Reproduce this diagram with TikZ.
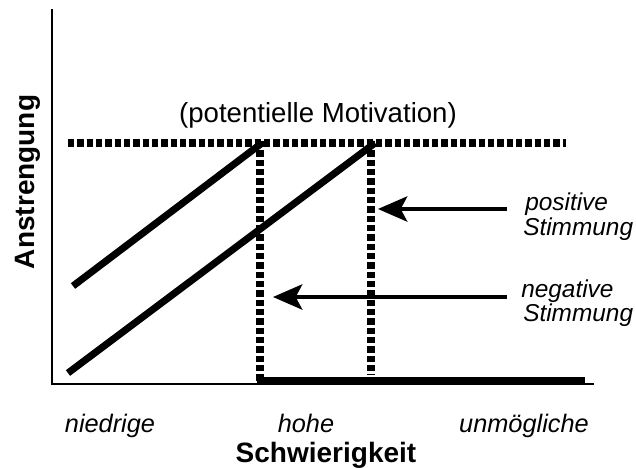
\documentclass[tikz,border=0pt]{standalone}
\usepackage{fontspec}
\setmainfont{Liberation Sans}
\usetikzlibrary{arrows.meta}
\begin{document}
\begin{tikzpicture}[x=0.75pt,y=-0.75pt,
  axis/.style={line width=2.2pt},
  slope/.style={line width=5.3pt},
  dotline/.style={line width=5.3pt,dash pattern=on 4.8pt off 2.2pt},
  floor/.style={line width=4.6pt},
  pointer/.style={line width=2.5pt,-{Stealth[length=22pt,width=19pt,inset=5pt]}},
  lab/.style={font=\fontsize{19}{23}\selectfont\itshape,anchor=base,inner sep=0pt},
  moodlab/.style={font=\fontsize{18.3}{22}\selectfont\itshape,anchor=base west,inner sep=0pt},
  axlab/.style={font=\fontsize{21}{25}\selectfont\bfseries,anchor=base,inner sep=0pt}]
\useasboundingbox[fill=white] (0,0) rectangle (636,468);

% axes
\coordinate (ytop) at (52,9);
\coordinate (origin) at (52,384);
\coordinate (xend) at (594,384);
\draw[axis] (ytop) -- (origin) -- (xend);

% level of potential motivation
\coordinate (lvlL) at (68,143);
\coordinate (lvlR) at (566,143);
\draw[dotline] (lvlL) -- (lvlR);
\node[font=\fontsize{20.7}{25}\selectfont,anchor=base,inner sep=0pt] (pot) at (318,122) {(potentielle Motivation)};

% effort lines for the two moods
\coordinate (posA) at (73,286);
\coordinate (posB) at (262,143);
\coordinate (negA) at (68,373);
\coordinate (negB) at (375,143);
\draw[slope] (posA) -- (posB);
\draw[slope] (negA) -- (negB);

% drop-off points
\coordinate (d1top) at (260,141);
\coordinate (d1bot) at (260,381);
\coordinate (d2top) at (371,141);
\coordinate (d2bot) at (371,375);
\draw[dotline] (d1top) -- (d1bot);
\draw[dotline] (d2top) -- (d2bot);

% zero effort beyond the limit
\coordinate (flL) at (257,380);
\coordinate (flR) at (585,380);
\draw[floor] (flL) -- (flR);

% mood labels and pointers
\node[moodlab] (pos1) at (525,210) {positive};
\node[moodlab] (pos2) at (523,235) {Stimmung};
\node[moodlab] (neg1) at (521,297) {negative};
\node[moodlab] (neg2) at (523,321) {Stimmung};
\coordinate (pTail) at (507,209);
\coordinate (pTip) at (378,209);
\coordinate (nTail) at (507,297);
\coordinate (nTip) at (273,297);
\draw[pointer] (pTail) -- (pTip);
\draw[pointer] (nTail) -- (nTip);

% axis labels
\node[axlab,rotate=90] (ylab) at (35,182) {Anstrengung};
\node[lab] (low) at (110,432) {niedrige};
\node[lab] (high) at (306,432) {hohe};
\node[lab] (imp) at (524,432) {unmögliche};
\node[axlab] (xlab) at (326,462) {Schwierigkeit};
\end{tikzpicture}
\end{document}
